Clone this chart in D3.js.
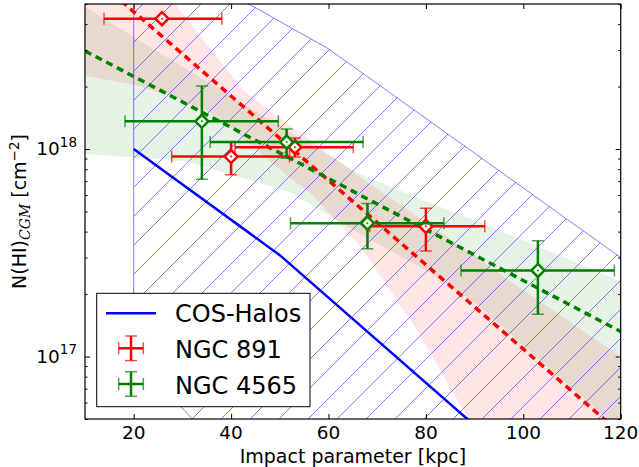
<!DOCTYPE html>
<html>
<head>
<meta charset="utf-8">
<script src="https://cdn.jsdelivr.net/npm/d3@7"></script>
<style>
  body { margin: 0; background: #fff; }
  text { font-family: "DejaVu Sans", sans-serif; fill: #000; }
</style>
</head>
<body>
<div id="chart"></div>
<script>
// ---- values ----
var xTicks = [20, 40, 60, 80, 100, 120];

// NGC 891 (red)
var n891B   = [25.8, 40.0, 53.1, 80.0];
var n891N   = [4.25e18, 9.2e17, 1.02e18, 4.24e17];
var n891Blo = [13.9, 27.8, 40.8, 68.5];
var n891Bhi = [38.1, 52.0, 65.1, 92.1];
var n891Nlo = [4.25e18, 7.52e17, 9.15e17, 3.23e17];
var n891Nhi = [4.25e18, 1.08e18, 1.13e18, 5.19e17];

// NGC 4565 (green)
var n4565B   = [34.0, 51.4, 68.0, 103.0];
var n4565N   = [1.36e18, 1.08e18, 4.39e17, 2.60e17];
var n4565Blo = [18.2, 35.7, 52.2, 87.2];
var n4565Bhi = [49.7, 67.1, 83.7, 118.7];
var n4565Nlo = [7.16e17, 9.02e17, 3.31e17, 1.60e17];
var n4565Nhi = [2.01e18, 1.25e18, 5.47e17, 3.61e17];

// fits (dashed)
var fitB = [10, 120];
var fit891 = [7.33e18, 4.26e16];
var fit4565 = [2.97e18, 1.32e17];

// fit uncertainty bands
var band891B  = [10, 20, 28.3, 35.7, 42.6, 52.1, 56.2, 66.5, 78.1, 88.4, 100, 120];
var band891Hi = [1.78e19, 8.91e18, 5.07e18, 3.05e18, 1.91e18, 1.30e18, 1.11e18, 7.33e17, 4.75e17, 3.24e17, 2.09e17, 1.00e17];
var band891Lo = [2.25e18, 2.04e18, 1.78e18, 1.50e18, 1.12e18, 7.24e17, 6.17e17, 3.40e17, 1.35e17, 5.15e16, 1.58e16, 1.58e15];
var band4565B  = [10, 20, 30.5, 42.6, 52.1, 66.5, 80, 91.1, 105, 120];
var band4565Hi = [4.85e18, 3.47e18, 2.46e18, 1.65e18, 1.20e18, 7.57e17, 5.61e17, 4.43e17, 3.24e17, 2.31e17];
var band4565Lo = [9.46e17, 9.12e17, 8.75e17, 7.24e17, 6.19e17, 3.89e17, 2.60e17, 1.74e17, 8.9e16, 4.4e16];

// COS-Halos
var cosB = [20, 50, 120];
var cosN = [1.0e18, 3.08e17, 1.13e16];
var cosHiB = [20, 43.2, 60, 120];
var cosHi  = [1.02e19, 5.07e18, 3.04e18, 3.0e17];
var cosLoB = [20, 60, 120];
var cosLo  = [1.0e17, 1.0e16, 1.0e15];

// ---- layout ----
var W = 639, H = 467;
var pL = 85, pR = 620.7, pT = 4, pB = 419;

var svg = d3.select("#chart").append("svg")
    .attr("width", W)
    .attr("height", H);

svg.append("rect").attr("width", W).attr("height", H).attr("fill", "#fff");

var x = d3.scaleLinear().domain([10, 120]).range([pL, pR]);
var y = d3.scaleLog().domain([5e16, 5e18]).range([pB, pT]);

function zip(bs, ns) {
  return bs.map(function(b, i) { return {b: b, n: ns[i]}; });
}

var line = d3.line()
    .x(function(d) { return x(d.b); })
    .y(function(d) { return y(d.n); });

var rangePath = line(zip(cosHiB, cosHi).concat(zip(cosLoB, cosLo).reverse())) + "Z";

var defs = svg.append("defs");
defs.append("clipPath").attr("id", "plotclip")
  .append("rect")
    .attr("x", pL).attr("y", pT)
    .attr("width", pR - pL).attr("height", pB - pT);
defs.append("clipPath").attr("id", "rangeclip")
  .append("path")
    .attr("d", rangePath);

var plot = svg.append("g").attr("clip-path", "url(#plotclip)");

// bands
var area = d3.area()
    .x(function(d) { return x(d.b); })
    .y0(function(d) { return y(d.lo); })
    .y1(function(d) { return y(d.hi); });

plot.append("path")
    .datum(band4565B.map(function(b, i) { return {b: b, lo: band4565Lo[i], hi: band4565Hi[i]}; }))
    .attr("d", area)
    .attr("fill", "green")
    .attr("fill-opacity", 0.1);

plot.append("path")
    .datum(band891B.map(function(b, i) { return {b: b, lo: band891Lo[i], hi: band891Hi[i]}; }))
    .attr("d", area)
    .attr("fill", "red")
    .attr("fill-opacity", 0.1);

// COS-Halos range: "/" hatch lines clipped to the range polygon
var hs = 29;
var hatch = plot.append("g").attr("clip-path", "url(#rangeclip)");
d3.range(pL + pT, pR + pB + hs, hs).forEach(function(c) {
  hatch.append("line")
    .attr("x1", c).attr("y1", 0)
    .attr("x2", c - H).attr("y2", H)
    .attr("stroke", "#0000ff")
    .attr("stroke-opacity", 0.5)
    .attr("stroke-width", 1);
});
plot.append("path")
    .attr("d", rangePath)
    .attr("fill", "none")
    .attr("stroke", "#0000ff")
    .attr("stroke-opacity", 0.5)
    .attr("stroke-width", 1);

// COS-Halos median
plot.append("path")
    .attr("d", line(zip(cosB, cosN)))
    .attr("fill", "none")
    .attr("stroke", "#0000ff")
    .attr("stroke-width", 2.5);

// fits
plot.append("path")
    .attr("d", line(zip(fitB, fit891)))
    .attr("fill", "none")
    .attr("stroke", "#ff0000")
    .attr("stroke-width", 3.5)
    .attr("stroke-dasharray", "7,5");

plot.append("path")
    .attr("d", line(zip(fitB, fit4565)))
    .attr("fill", "none")
    .attr("stroke", "#008000")
    .attr("stroke-width", 3.5)
    .attr("stroke-dasharray", "7,5");

// error bars
var cap = 6, dia = 6.5;

function errorbars(col, bs, ns, blo, bhi, nlo, nhi) {
  var g = plot.append("g");
  bs.forEach(function(b, i) {
    var cx = x(b), cy = y(ns[i]);
    var x0 = x(blo[i]), x1 = x(bhi[i]);
    var y0 = y(nlo[i]), y1 = y(nhi[i]);
    g.append("line").attr("x1", x0).attr("x2", x1).attr("y1", cy).attr("y2", cy)
      .attr("stroke", col).attr("stroke-width", 2.5);
    g.append("line").attr("x1", cx).attr("x2", cx).attr("y1", y0).attr("y2", y1)
      .attr("stroke", col).attr("stroke-width", 2.5);
    var caps = [[x0, cy, 0], [x1, cy, 0]];
    if (Math.abs(y0 - y1) > 0.5) caps.push([cx, y0, 1], [cx, y1, 1]);
    caps.forEach(function(c) {
      g.append("line")
        .attr("x1", c[2] ? c[0] - cap : c[0]).attr("x2", c[2] ? c[0] + cap : c[0])
        .attr("y1", c[2] ? c[1] : c[1] - cap).attr("y2", c[2] ? c[1] : c[1] + cap)
        .attr("stroke", col).attr("stroke-width", 1.5).attr("stroke-opacity", 0.7);
    });
    g.append("path")
      .attr("d", "M" + cx + "," + (cy - dia) + "L" + (cx + dia) + "," + cy +
                 "L" + cx + "," + (cy + dia) + "L" + (cx - dia) + "," + cy + "Z")
      .attr("fill", "#fff").attr("stroke", col).attr("stroke-width", 2.5);
    g.append("circle").attr("cx", cx).attr("cy", cy).attr("r", 1).attr("fill", col);
  });
}

errorbars("#ff0000", n891B, n891N, n891Blo, n891Bhi, n891Nlo, n891Nhi);
errorbars("#008000", n4565B, n4565N, n4565Blo, n4565Bhi, n4565Nlo, n4565Nhi);

// ---- axes (ticks pointing inward) ----
var yAll = y.ticks();
var yMaj = yAll.filter(function(v) { return Math.abs(Math.log10(v) - Math.round(Math.log10(v))) < 1e-6; });
var yMin = yAll.filter(function(v) { return yMaj.indexOf(v) < 0; });

function styleAxis(g) {
  g.select(".domain").remove();
  g.selectAll(".tick line").attr("stroke", "#000").attr("stroke-width", 1);
  g.selectAll(".tick text").remove();
}

svg.append("g").attr("transform", "translate(0," + pB + ")")
  .call(d3.axisBottom(x).tickValues(xTicks).tickSize(-5).tickSizeOuter(0)).call(styleAxis);
svg.append("g").attr("transform", "translate(0," + pT + ")")
  .call(d3.axisTop(x).tickValues(xTicks).tickSize(-5).tickSizeOuter(0)).call(styleAxis);
svg.append("g").attr("transform", "translate(" + pL + ",0)")
  .call(d3.axisLeft(y).tickValues(yMaj).tickSize(-5).tickSizeOuter(0)).call(styleAxis);
svg.append("g").attr("transform", "translate(" + pL + ",0)")
  .call(d3.axisLeft(y).tickValues(yMin).tickSize(-2.5).tickSizeOuter(0)).call(styleAxis);
svg.append("g").attr("transform", "translate(" + pR + ",0)")
  .call(d3.axisRight(y).tickValues(yMaj).tickSize(-5).tickSizeOuter(0)).call(styleAxis);
svg.append("g").attr("transform", "translate(" + pR + ",0)")
  .call(d3.axisRight(y).tickValues(yMin).tickSize(-2.5).tickSizeOuter(0)).call(styleAxis);

// frame
svg.append("rect")
    .attr("x", pL).attr("y", pT)
    .attr("width", pR - pL).attr("height", pB - pT)
    .attr("fill", "none").attr("stroke", "#000").attr("stroke-width", 1.2);

// tick labels
svg.append("g").selectAll("text").data(xTicks).enter().append("text")
    .attr("x", function(d) { return x(d); })
    .attr("y", 439)
    .attr("text-anchor", "middle")
    .style("font-size", "18.5px")
    .text(function(d) { return d; });

var yl = svg.append("g").selectAll("text").data(yMaj).enter().append("text")
    .attr("x", 77)
    .attr("y", function(d) { return y(d) + 6; })
    .attr("text-anchor", "end")
    .style("font-size", "18.5px");
yl.append("tspan").text("10");
yl.append("tspan").attr("dy", -8.5).style("font-size", "13.5px")
    .text(function(d) { return Math.round(Math.log10(d)); });

// axis titles
svg.append("text")
    .attr("x", (pL + pR) / 2)
    .attr("y", 462.5)
    .attr("text-anchor", "middle")
    .style("font-size", "19px")
    .text("Impact parameter [kpc]");

var yt = svg.append("text")
    .attr("transform", "translate(26," + ((pT + pB) / 2) + ") rotate(-90)")
    .attr("text-anchor", "middle")
    .style("font-size", "19px");
yt.append("tspan").text("N(HI)");
yt.append("tspan").attr("dy", 4).style("font-size", "14px")
    .style("font-family", "'DejaVu Serif', serif").style("font-style", "italic").text("CGM");
yt.append("tspan").attr("dy", -4).text("\u00a0[cm");
yt.append("tspan").attr("dy", -7.5).style("font-size", "13.5px").text("\u22122");
yt.append("tspan").attr("dy", 7.5).text("]");

// ---- legend ----
var lg = svg.append("g");
lg.append("rect")
    .attr("x", 96.7).attr("y", 293.3)
    .attr("width", 213.3).attr("height", 113.4)
    .attr("fill", "#fff").attr("stroke", "#000").attr("stroke-width", 1);

lg.append("line")
    .attr("x1", 106).attr("x2", 156).attr("y1", 313.3).attr("y2", 313.3)
    .attr("stroke", "#0000ff").attr("stroke-width", 2.5);

var legendItems = [
  {label: "NGC 891", col: "#ff0000", cy: 348.3},
  {label: "NGC 4565", col: "#008000", cy: 384}
];
legendItems.forEach(function(it) {
  var cx = 131, r = 12.3;
  lg.append("line").attr("x1", cx - r).attr("x2", cx + r).attr("y1", it.cy).attr("y2", it.cy)
    .attr("stroke", it.col).attr("stroke-width", 2.5);
  lg.append("line").attr("x1", cx).attr("x2", cx).attr("y1", it.cy - r).attr("y2", it.cy + r)
    .attr("stroke", it.col).attr("stroke-width", 2.5);
  [[cx - r, it.cy, 0], [cx + r, it.cy, 0], [cx, it.cy - r, 1], [cx, it.cy + r, 1]].forEach(function(c) {
    lg.append("line")
      .attr("x1", c[2] ? c[0] - cap : c[0]).attr("x2", c[2] ? c[0] + cap : c[0])
      .attr("y1", c[2] ? c[1] : c[1] - cap).attr("y2", c[2] ? c[1] : c[1] + cap)
      .attr("stroke", it.col).attr("stroke-width", 1.5).attr("stroke-opacity", 0.7);
  });
});

lg.selectAll("text.lab")
    .data([{t: "COS-Halos", yb: 322}, {t: "NGC 891", yb: 358}, {t: "NGC 4565", yb: 393.5}])
  .enter().append("text")
    .attr("class", "lab")
    .attr("x", 175)
    .attr("y", function(d) { return d.yb; })
    .style("font-size", "24px")
    .text(function(d) { return d.t; });
</script>
</body>
</html>
